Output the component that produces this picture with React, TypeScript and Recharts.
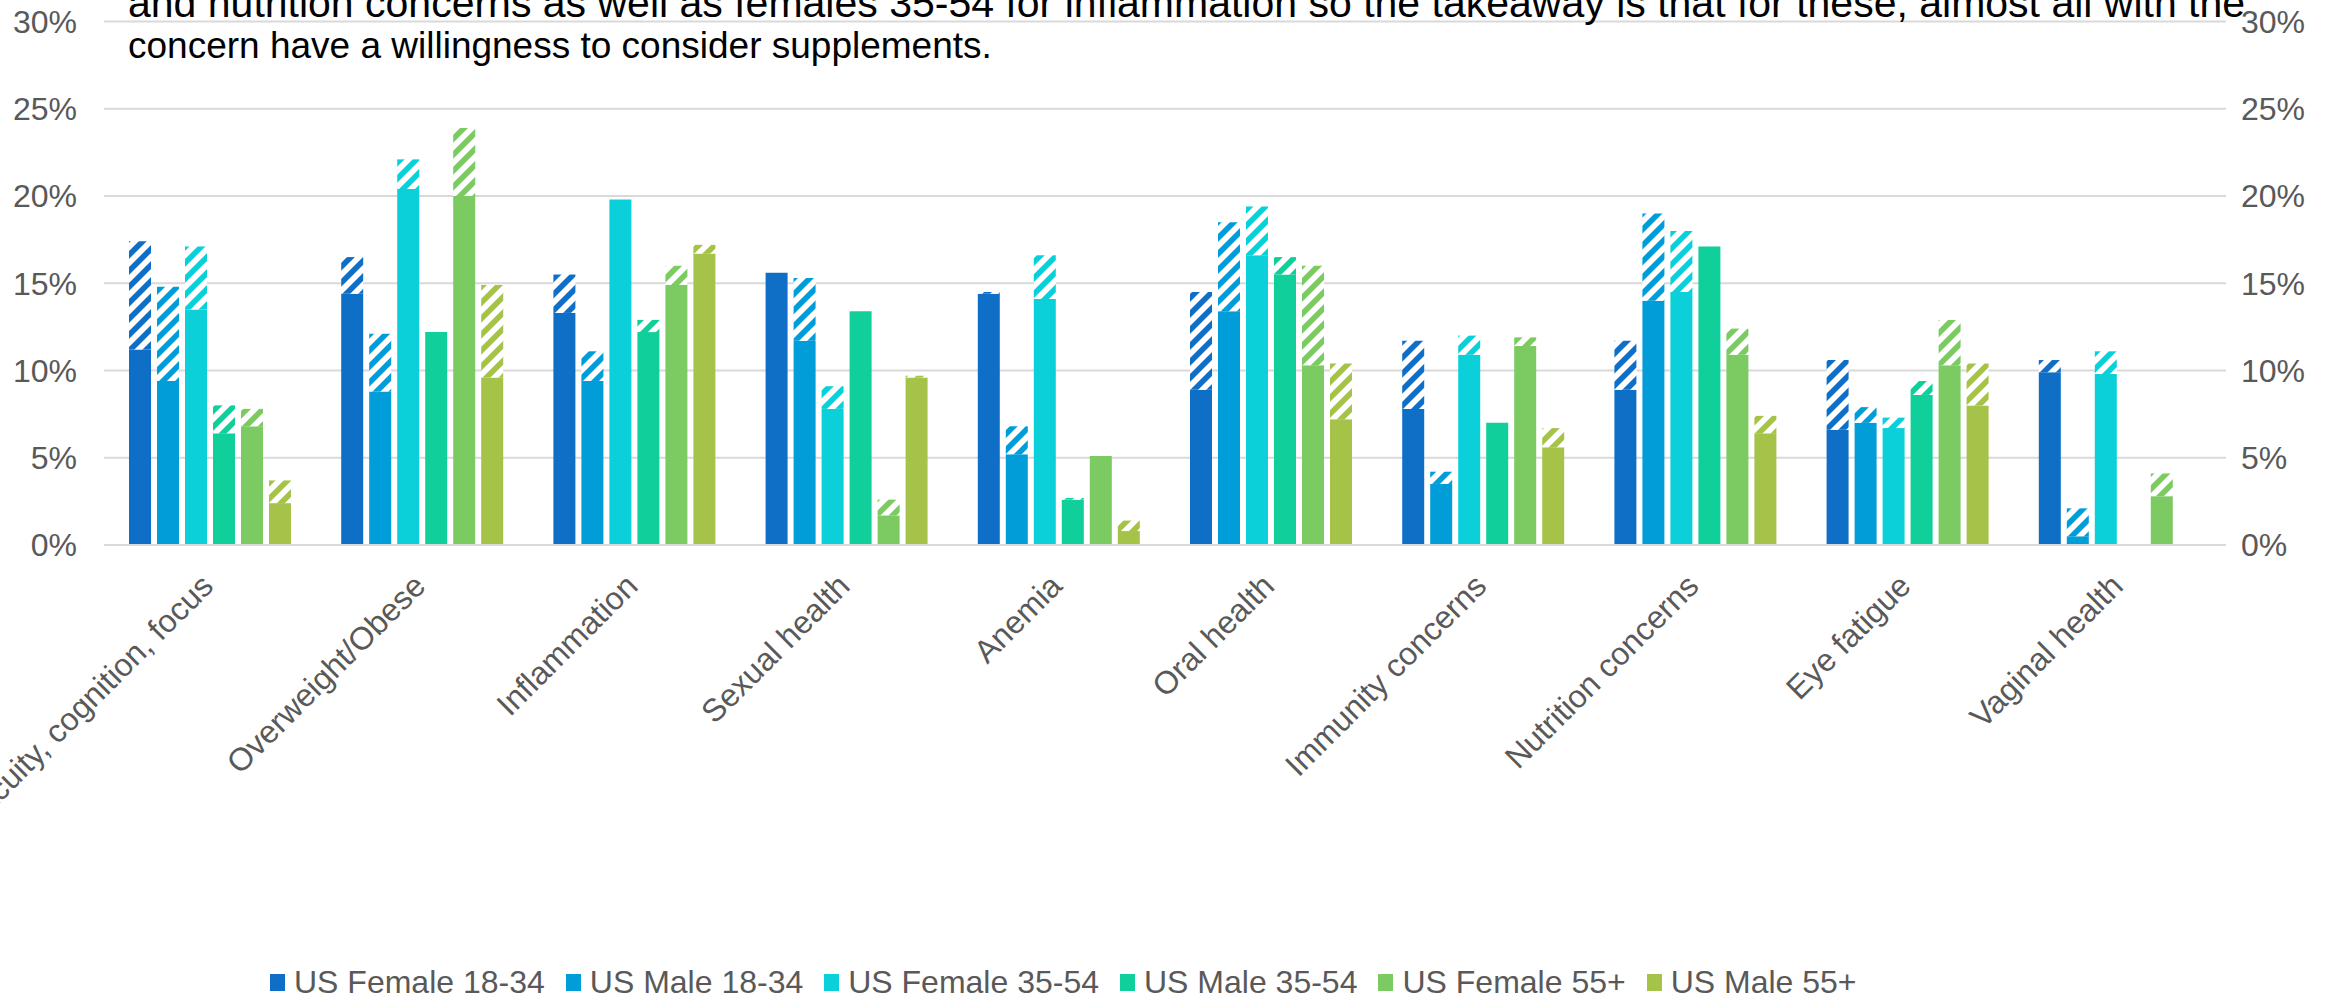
import { BarChart, Bar, XAxis, YAxis, CartesianGrid } from 'recharts'

const WIDTH = 2327
const HEIGHT = 1000

const FONT = '"Liberation Sans", Arial, Helvetica, sans-serif'
const AXIS_GREY = '#595959'
const GRID_GREY = '#d9d9d9'

const categories = [
  'Mental acuity, cognition, focus',
  'Overweight/Obese',
  'Inflammation',
  'Sexual health',
  'Anemia',
  'Oral health',
  'Immunity concerns',
  'Nutrition concerns',
  'Eye fatigue',
  'Vaginal health',
]

const seriesNames = [
  'US Female 18-34',
  'US Male 18-34',
  'US Female 35-54',
  'US Male 35-54',
  'US Female 55+',
  'US Male 55+',
]

const seriesColors = ['#0f6fc6', '#009dd9', '#0bd0d9', '#10cf9b', '#7cca62', '#a5c249']

// solid part (% with the concern) and top of the hatched part (% incl. willing to consider)
const female1834Solid = [11.2, 14.4, 13.3, 15.6, 14.4, 8.9, 7.8, 8.9, 6.6, 9.9]
const female1834Total = [17.4, 16.5, 15.5, 15.6, 14.5, 14.5, 11.7, 11.7, 10.6, 10.6]
const male1834Solid = [9.4, 8.8, 9.4, 11.7, 5.2, 13.4, 3.5, 14.0, 7.0, 0.5]
const male1834Total = [14.8, 12.1, 11.1, 15.3, 6.8, 18.5, 4.2, 19.0, 7.9, 2.1]
const female3554Solid = [13.5, 20.4, 19.8, 7.8, 14.1, 16.6, 10.9, 14.5, 6.7, 9.8]
const female3554Total = [17.1, 22.1, 19.8, 9.1, 16.6, 19.4, 12.0, 18.0, 7.3, 11.1]
const male3554Solid = [6.4, 12.2, 12.2, 13.4, 2.6, 15.5, 7.0, 17.1, 8.6, 0]
const male3554Total = [8.0, 12.2, 12.9, 13.4, 2.7, 16.5, 7.0, 17.1, 9.4, 0]
const female55Solid = [6.8, 20.0, 14.9, 1.7, 5.1, 10.3, 11.4, 10.9, 10.3, 2.8]
const female55Total = [7.8, 23.9, 16.0, 2.6, 5.1, 16.0, 11.9, 12.4, 12.9, 4.1]
const male55Solid = [2.4, 9.6, 16.7, 9.6, 0.8, 7.2, 5.6, 6.4, 8.0, 0]
const male55Total = [3.7, 14.9, 17.2, 9.7, 1.4, 10.4, 6.7, 7.4, 10.4, 0]

const solids = [female1834Solid, male1834Solid, female3554Solid, male3554Solid, female55Solid, male55Solid]
const totals = [female1834Total, male1834Total, female3554Total, male3554Total, female55Total, male55Total]

const yTicks = [0, 5, 10, 15, 20, 25, 30]

const titleLine1 =
  'and nutrition concerns as well as females 35-54 for inflammation so the takeaway is that for these, almost all with the'
const titleLine2 = 'concern have a willingness to consider supplements.'

const data = categories.map((name, i) => {
  const row: Record<string, any> = { name }
  solids.forEach((s, k) => {
    row[`s${k}`] = s[i]
    row[`h${k}`] = Math.max(0, +(totals[k][i] - s[i]).toFixed(2))
  })
  return row
})

const CategoryTick = ({ x, y, payload }: any) => (
  <text
    transform={`translate(${x + 5},${y + 43}) rotate(-45)`}
    textAnchor="end"
    fill={AXIS_GREY}
    fontSize={32}
    fontFamily={FONT}
  >
    {payload.value}
  </text>
)

// upward diagonal stripes, one pattern per series colour
const TILE = 16
const stripePath = `M${-TILE / 2},${TILE / 2} L${TILE / 2},${-TILE / 2} M0,${TILE} L${TILE},0 M${TILE / 2},${TILE * 1.5} L${TILE * 1.5},${TILE / 2}`

function HatchDefs() {
  return (
    <svg width={0} height={0} style={{ position: 'absolute' }}>
      <defs>
        {seriesColors.map((c, i) => (
          <pattern key={i} id={`hatch${i}`} patternUnits="userSpaceOnUse" width={TILE} height={TILE}>
            <rect width={TILE} height={TILE} fill="#fff" />
            <path d={stripePath} stroke={c} strokeWidth={5.6} />
          </pattern>
        ))}
      </defs>
    </svg>
  )
}

function ChartLegend() {
  return (
    <div
      style={{
        position: 'absolute',
        left: 270,
        top: 966,
        display: 'flex',
        alignItems: 'center',
        height: 32,
        whiteSpace: 'nowrap',
        fontFamily: FONT,
        fontSize: 32,
        lineHeight: '32px',
        color: AXIS_GREY,
      }}
    >
      {seriesNames.map((n, i) => (
        <div key={n} style={{ display: 'flex', alignItems: 'center', marginRight: 21 }}>
          <span style={{ width: 15, height: 17, background: seriesColors[i], marginRight: 9 }} />
          <span>{n}</span>
        </div>
      ))}
    </div>
  )
}

const titleStyle = {
  position: 'absolute' as const,
  left: 128,
  fontFamily: FONT,
  color: '#000',
  whiteSpace: 'nowrap' as const,
}

export default function App() {
  return (
    <div
      style={{
        position: 'absolute',
        left: 0,
        top: 0,
        width: WIDTH,
        height: HEIGHT,
        overflow: 'hidden',
        background: '#fff',
      }}
    >
      <HatchDefs />
      <BarChart
        width={WIDTH}
        height={HEIGHT}
        data={data}
        margin={{ top: 21.5, right: 0, bottom: 0, left: 0 }}
        barSize={22}
        barGap={6}
      >
        <CartesianGrid yAxisId="left" vertical={false} stroke={GRID_GREY} strokeWidth={2} />
        <XAxis
          dataKey="name"
          height={455}
          interval={0}
          tickLine={false}
          tickSize={0}
          tickMargin={0}
          axisLine={{ stroke: GRID_GREY, strokeWidth: 2 }}
          tick={<CategoryTick />}
        />
        <YAxis
          yAxisId="left"
          width={104}
          domain={[0, 30]}
          ticks={yTicks}
          tickFormatter={(v) => `${v}%`}
          axisLine={false}
          tickLine={false}
          tickSize={0}
          tickMargin={27}
          tick={{ fill: AXIS_GREY, fontSize: 32, fontFamily: FONT }}
        />
        <YAxis
          yAxisId="right"
          orientation="right"
          width={101}
          domain={[0, 30]}
          allowDataOverflow
          ticks={yTicks}
          tickFormatter={(v) => `${v}%`}
          axisLine={false}
          tickLine={false}
          tickSize={0}
          tickMargin={15}
          tick={{ fill: AXIS_GREY, fontSize: 32, fontFamily: FONT }}
        />
        {seriesNames.flatMap((n, k) => [
          <Bar
            key={`s${k}`}
            yAxisId="left"
            dataKey={`s${k}`}
            name={n}
            stackId={`st${k}`}
            fill={seriesColors[k]}
            isAnimationActive={false}
          />,
          <Bar
            key={`h${k}`}
            yAxisId="left"
            dataKey={`h${k}`}
            name={`${n} (consider)`}
            stackId={`st${k}`}
            fill={`url(#hatch${k})`}
            isAnimationActive={false}
          />,
        ])}
      </BarChart>

      <div style={{ ...titleStyle, top: -19, fontSize: 41, lineHeight: '44px' }}>{titleLine1}</div>
      <div style={{ ...titleStyle, top: 25, fontSize: 37, lineHeight: '42px' }}>{titleLine2}</div>

      <ChartLegend />
    </div>
  )
}
